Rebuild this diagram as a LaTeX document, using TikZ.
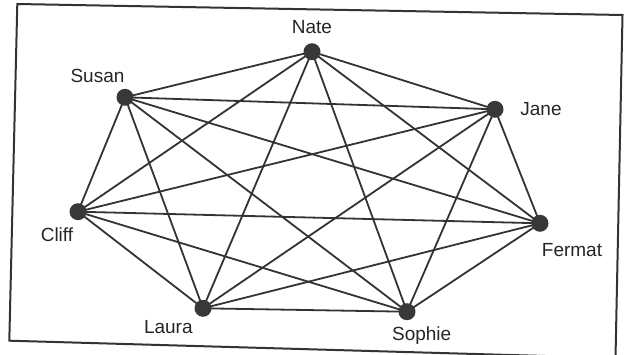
\documentclass[tikz,border=0pt]{standalone}
\usepackage{fontspec}
\setmainfont{Liberation Sans}
\usetikzlibrary{backgrounds}
\begin{document}
\begin{tikzpicture}[x=1pt,y=1pt,
  vtx/.style={circle,fill=black!78,minimum size=17pt,inner sep=0pt},
  lbl/.style={font=\fontsize{19}{19}\selectfont,text=black!85,inner sep=0pt},
  edge/.style={draw=black!80,line width=1.8pt},
  frame/.style={draw=black!80,line width=2pt}]
\useasboundingbox (0,0) rectangle (624,354);
% vertices
\node[vtx] (nate) at (312,302.3) {};
\node[vtx] (susan) at (125,256.7) {};
\node[vtx] (jane) at (495,244.7) {};
\node[vtx] (cliff) at (78,142.3) {};
\node[vtx] (fermat) at (540,130.7) {};
\node[vtx] (laura) at (203,45.7) {};
\node[vtx] (sophie) at (407,42.3) {};
% labels
\node[lbl] (lnate) at (312,327.3) {Nate};
\node[lbl] (lsusan) at (97.5,278) {Susan};
\node[lbl] (ljane) at (541,245) {Jane};
\node[lbl] (lcliff) at (57,119) {Cliff};
\node[lbl] (lfermat) at (572,104) {Fermat};
\node[lbl] (llaura) at (168.3,27) {Laura};
\node[lbl] (lsophie) at (421.7,18) {Sophie};
\begin{scope}[on background layer]
\fill[white] (0,0) rectangle (624,354);
\draw[frame] (17.3,350) -- (622.5,339) -- (615.5,-4) -- (9.3,13.3) -- cycle;
\foreach \a/\b in {nate/susan,nate/jane,nate/cliff,nate/fermat,nate/laura,nate/sophie,
  susan/jane,susan/cliff,susan/fermat,susan/laura,susan/sophie,
  jane/cliff,jane/fermat,jane/laura,jane/sophie,
  cliff/fermat,cliff/laura,cliff/sophie,
  fermat/laura,fermat/sophie,
  laura/sophie}
  \draw[edge] (\a.center) -- (\b.center);
\end{scope}
\end{tikzpicture}
\end{document}
